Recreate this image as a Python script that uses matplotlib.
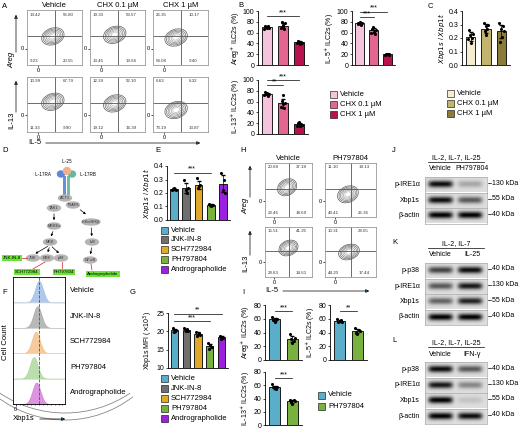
import numpy as np
import matplotlib
matplotlib.use("Agg")
import matplotlib.pyplot as plt
from matplotlib.patches import Ellipse, Arc

W, H = 520, 428
plt.rcParams["font.family"] = ["Liberation Sans", "DejaVu Sans"]
plt.rcParams["axes.linewidth"] = 0.6

# ---------------- data ----------------
chx_groups = ["Vehicle", "CHX 0.1 µM", "CHX 1 µM"]
a_quads = [[[13.42, 56.80, 9.23, 20.55], [19.33, 53.57, 13.45, 13.66], [26.35, 10.17, 54.08, 9.40]],
           [[10.99, 67.79, 11.33, 9.90], [12.39, 52.10, 19.12, 16.39], [6.63, 6.32, 73.19, 13.87]]]
a_centers = [[(0.47, 0.52), (0.45, 0.55), (0.42, 0.50)],
             [(0.47, 0.55), (0.45, 0.52), (0.42, 0.40)]]

b_areg = [70, 73, 42]
b_areg_pts = [[66, 72, 70, 68, 73, 69], [68, 80, 75, 70, 66, 78], [40, 44, 42, 39, 43, 41]]
b_il5 = [77, 64, 20]
b_il5_pts = [[76, 78, 77, 79, 75, 78], [60, 66, 70, 62, 58, 65], [19, 21, 20, 20, 21, 19]]
b_il13 = [74, 57, 18]
b_il13_pts = [[72, 78, 74, 76, 70, 75], [50, 62, 72, 55, 48, 58], [15, 20, 22, 14, 18, 17]]

c_ratio = [0.21, 0.27, 0.25]
c_pts = [[0.19, 0.26, 0.22, 0.16, 0.20, 0.23], [0.31, 0.25, 0.29, 0.22, 0.27, 0.30],
         [0.31, 0.17, 0.27, 0.21, 0.29, 0.25]]

inhib = ["Vehicle", "JNK-IN-8", "SCH772984", "PH797804", "Andrographolide"]
inhib_colors = ["#5aaec9", "#6f6f6f", "#e0a92a", "#79b13f", "#9b20e0"]
e_ratio = [0.23, 0.24, 0.26, 0.11, 0.27]
e_pts = [[0.22, 0.23, 0.24, 0.22], [0.30, 0.22, 0.20, 0.24], [0.31, 0.24, 0.25, 0.26],
         [0.12, 0.11, 0.10, 0.11], [0.35, 0.22, 0.30, 0.20]]
g_mfi = [20.3, 20.4, 19.3, 16.0, 18.4]
g_pts = [[20.8, 19.8, 20.2, 20.5], [20.9, 20.0, 20.6, 20.2], [19.8, 18.8, 19.5, 19.0],
         [16.8, 15.2, 16.3, 15.8], [18.8, 18.0, 18.5, 18.3]]
f_peaks = [0.50, 0.47, 0.44, 0.40, 0.45]

h_groups = ["Vehicle", "PH797804"]
h_quads = [[[20.68, 37.18, 23.46, 18.69], [11.10, 19.13, 43.41, 26.36]],
           [[15.51, 41.25, 28.63, 14.61], [10.31, 28.05, 44.20, 17.44]]]
h_centers = [[(0.47, 0.55), (0.45, 0.42)], [(0.50, 0.58), (0.47, 0.50)]]
i_groups = ["Vehicle", "PH797804"]
i_colors = ["#5aaec9", "#79b13f"]
i_areg = [59, 30]
i_areg_pts = [[62, 58, 56, 60, 59], [38, 30, 25, 28, 32]]
i_il5 = [57, 42]
i_il5_pts = [[59, 56, 57, 58, 55], [46, 40, 38, 44, 42]]
i_il13 = [57, 36]
i_il13_pts = [[62, 58, 56, 55, 57], [38, 35, 32, 37, 36]]

# western blots: (title, lanes, rows, band intensities per lane, kDa)
blots = [
    ("J", "IL-2, IL-7, IL-25", ["Vehicle", "PH797804"],
     ["p-IRE1α", "Xbp1s", "β-actin"], [[0.95, 0.25], [0.95, 0.6], [1.0, 1.0]],
     ["130 kDa", "55 kDa", "40 kDa"]),
    ("K", "IL-2, IL-7", ["Vehicle", "IL-25"],
     ["p-p38", "p-IRE1α", "Xbp1s", "β-actin"], [[0.7, 0.95], [0.6, 0.9], [0.55, 0.85], [1.0, 1.0]],
     ["40 kDa", "130 kDa", "55 kDa", "40 kDa"]),
    ("L", "IL-2, IL-7, IL-25", ["Vehicle", "IFN-γ"],
     ["p-p38", "p-IRE1α", "Xbp1s", "β-actin"], [[0.95, 0.6], [0.9, 0.4], [1.0, 0.12], [1.0, 0.95]],
     ["40 kDa", "130 kDa", "55 kDa", "40 kDa"]),
]

fig = plt.figure(figsize=(W / 100, H / 100), dpi=100)
ov = fig.add_axes([0, 0, 1, 1])
ov.set_xlim(0, W)
ov.set_ylim(H, 0)
ov.axis("off")


def ax_px(x0, y0, x1, y1):
    return fig.add_axes([x0 / W, 1 - y1 / H, (x1 - x0) / W, (y1 - y0) / H])


for lab, x, y in [("A", 2, 6), ("B", 238, 5), ("C", 428, 6), ("D", 2, 150), ("E", 155, 150),
                  ("F", 2, 293), ("G", 130, 293), ("H", 240, 150), ("I", 242, 293),
                  ("J", 392, 150), ("K", 392, 242), ("L", 392, 340)]:
    ov.text(x, y, lab, fontsize=5.5, va="center")


def flow(ax, quads, center, title=None):
    ax.set_xlim(0, 1)
    ax.set_ylim(0, 1)
    ax.set_xticks([0.2])
    ax.set_xticklabels(["0"])
    ax.set_yticks([0.3])
    ax.set_yticklabels(["0"])
    ax.tick_params(length=1.5, width=0.5, labelsize=4, pad=1)
    for s in ax.spines.values():
        s.set_color("#999999")
    ax.axvline(0.5, color="#555555", lw=0.6)
    ax.axhline(0.52, color="#555555", lw=0.6)
    cx, cy = center
    for k, r in enumerate(np.linspace(1, 0.3, 6)):
        ax.add_patch(Ellipse((cx, cy), 0.42 * r, 0.30 * r, angle=20, fill=False,
                             ec=str(0.35 + 0.08 * k), lw=0.5))
    kw = dict(fontsize=3.2, color="#333333")
    ax.text(0.05, 0.9, f"{quads[0]:.2f}", **kw)
    ax.text(0.65, 0.9, f"{quads[1]:.2f}", **kw)
    ax.text(0.05, 0.05, f"{quads[2]:.2f}", **kw)
    ax.text(0.65, 0.05, f"{quads[3]:.2f}", **kw)
    if title:
        ax.set_title(title, fontsize=5.5, pad=2)


def bars(ax, vals, pts, colors, ylim, yticks, ylabel, sigs=(), fmt=None):
    x = np.arange(len(vals))
    ax.bar(x, vals, color=colors, edgecolor="black", lw=0.6, width=0.62, zorder=1)
    for i, p in enumerate(pts):
        sd = np.std(p)
        ax.errorbar(i, vals[i], yerr=sd, color="black", lw=0.5, capsize=1.2, zorder=2)
        off = np.linspace(-0.15, 0.15, len(p))
        ax.scatter(i + off, p, s=5, color="black", zorder=3, lw=0)
    ax.set_ylim(*ylim)
    ax.set_yticks(yticks)
    if fmt:
        ax.set_yticklabels([fmt.format(t) for t in yticks])
    ax.set_xticks([])
    ax.set_xlim(-0.55, len(vals) - 0.45)
    ax.spines[["top", "right"]].set_visible(False)
    ax.tick_params(length=1.5, width=0.5, labelsize=5, pad=1)
    ax.set_ylabel(ylabel, fontsize=5, labelpad=1)
    for (i, j, yy, txt) in sigs:
        ax.plot([i, j], [yy, yy], color="black", lw=0.5, clip_on=False)
        ax.text((i + j) / 2, yy, txt, fontsize=5, ha="center", va="bottom")


def legend(x, y, labels, colors, dy=10, fs=5.5):
    for k, (l, c) in enumerate(zip(labels, colors)):
        ov.add_patch(plt.Rectangle((x, y + k * dy - 3.5), 7, 7, fc=c, ec="black", lw=0.4))
        ov.text(x + 10, y + k * dy, l, fontsize=fs, va="center")


# ---------------- A ----------------
ax_x = [(27, 82), (90, 145), (153, 208)]
for r, (y0, y1) in enumerate([(10, 65), (77, 132)]):
    for c, (x0, x1) in enumerate(ax_x):
        ax = ax_px(x0, y0, x1, y1)
        flow(ax, a_quads[r][c], a_centers[r][c], chx_groups[c] if r == 0 else None)
ov.annotate("", xy=(16, 12), xytext=(16, 55), arrowprops=dict(arrowstyle="-|>", lw=0.5, mutation_scale=5))
ov.annotate("", xy=(16, 78), xytext=(16, 115), arrowprops=dict(arrowstyle="-|>", lw=0.5, mutation_scale=5))
ov.text(12, 60, "Areg", rotation=90, fontsize=5.5, ha="center", va="center", style="italic")
ov.text(12, 120, "IL-13", rotation=90, fontsize=5.5, ha="center", va="center")
ov.text(28, 143, "IL-5", fontsize=5.5, va="center")
ov.annotate("", xy=(203, 143), xytext=(43, 143), arrowprops=dict(arrowstyle="-|>", lw=0.5, mutation_scale=5))

# ---------------- B ----------------
pinks = ["#f5c4dc", "#e2668f", "#b8134f"]
bars(ax_px(258, 11, 308, 65), b_areg, b_areg_pts, pinks, (0, 100), range(0, 101, 20),
     r"Areg$^{+}$ ILC2s (%)", [(0, 2, 90, "***")])
bars(ax_px(352, 11, 395, 65), b_il5, b_il5_pts, pinks, (0, 100), range(0, 101, 20),
     r"IL-5$^{+}$ ILC2s (%)", [(0, 1, 89, "***"), (0, 2, 99, "***")])
bars(ax_px(258, 80, 308, 134), b_il13, b_il13_pts, pinks, (0, 100), range(0, 101, 20),
     r"IL-13$^{+}$ ILC2s (%)", [(0, 1, 90, "**"), (0, 2, 100, "***")])
legend(330, 94, chx_groups, pinks)

# ---------------- C ----------------
golds = ["#f4edd2", "#c3b46f", "#8b7b38"]
bars(ax_px(462, 11, 510, 65), c_ratio, c_pts, golds, (0, 0.4), [0, 0.1, 0.2, 0.3, 0.4],
     r"$Xbp1s$ / $Xbp1t$", fmt="{:.1f}")
legend(447, 93, chx_groups, golds)

# ---------------- D diagram ----------------
ov.add_patch(Arc((65, 300), 230, 240, theta1=55, theta2=125, lw=0.6, color="#888888"))
ov.add_patch(Arc((65, 300), 230, 226, theta1=55, theta2=125, lw=0.6, color="#888888"))
ov.add_patch(plt.Rectangle((63, 176), 3, 20, color="#6a8fd8", lw=0))
ov.add_patch(plt.Rectangle((67, 176), 3, 20, color="#6cc0a4", lw=0))
ov.add_patch(Ellipse((61, 174), 7, 6, color="#5c86d6"))
ov.add_patch(Ellipse((72, 174), 7, 6, color="#66b89a"))
ov.add_patch(Ellipse((67, 171), 7, 7, color="#f0b08c"))
ov.text(67, 163, "IL-25", fontsize=3.3, ha="center")
ov.text(52, 174, "IL-17RA", fontsize=3.3, ha="right", va="center")
ov.text(80, 174, "IL-17RB", fontsize=3.3, ha="left", va="center")
nodes = {"ACT1": (65, 198), "TRAF6": (73, 205), "TAK1": (54, 208), "MEKKs": (54, 226),
         "MKK": (50, 242), "JNK": (33, 258), "ERK": (47, 258), "p38": (61, 258),
         "IKKα/IKKβ": (91, 222), "IκB": (92, 242), "NF-κB": (90, 260)}
for name, (x, y) in nodes.items():
    ov.add_patch(Ellipse((x, y), 13 if len(name) < 6 else 18, 6, color="#b5b5b5"))
    ov.text(x, y, name, fontsize=2.8, ha="center", va="center", color="#333333")
for (a, b) in [("TAK1", "MEKKs"), ("MEKKs", "MKK"), ("MKK", "JNK"), ("MKK", "ERK"), ("MKK", "p38"),
               ("IKKα/IKKβ", "IκB"), ("IκB", "NF-κB")]:
    (x0, y0), (x1, y1) = nodes[a], nodes[b]
    ov.annotate("", xy=(x1, y1 - 3), xytext=(x0, y0 + 3),
                arrowprops=dict(arrowstyle="-|>", lw=0.5, mutation_scale=3, color="black"))
ov.annotate("", xy=(88, 216), xytext=(78, 208),
            arrowprops=dict(arrowstyle="-|>", lw=0.5, mutation_scale=3, color="black"))
for name, (x, y) in {"JNK-IN-8": (12, 258), "SCH772984": (27, 272), "PH797804": (64, 272),
                     "Andrographolide": (103, 274)}.items():
    ov.text(x, y, name, fontsize=3.2, ha="center", va="center",
            bbox=dict(boxstyle="square,pad=0.2", fc="#6ce23a", ec="none"))
for (x0, y0, x1, y1) in [(20, 258, 27, 258), (33, 269, 45, 262), (62, 269, 62, 262), (92, 270, 91, 264)]:
    ov.plot([x0, x1], [y0, y1], color="#d02020", lw=0.5)

# ---------------- E ----------------
bars(ax_px(167, 166, 230, 220), e_ratio, e_pts, inhib_colors, (0, 0.4), [0, 0.1, 0.2, 0.3, 0.4],
     r"$Xbp1s$ / $Xbp1t$", [(0, 3, 0.35, "***")], fmt="{:.1f}")
legend(161, 230, inhib, inhib_colors, dy=9.8)

# ---------------- F ----------------
axf = ax_px(13, 277, 65, 404)
f_colors = ["#7aa6e2", "#8a8a8a", "#f0a85a", "#8cc878", "#c64ec8"]
xs = np.linspace(0, 1, 200)
for k, (pk, col) in enumerate(zip(f_peaks, f_colors)):
    base = 4 - k
    yv = base + 0.85 * np.exp(-((xs - pk) / 0.11) ** 2)
    axf.fill_between(xs, base, yv, color=col, alpha=0.6, lw=0.4, ec=col)
    axf.axhline(base, color="#dddddd", lw=0.4)
    ov.text(70, 277 + (k + 0.55) * 25.4, inhib[k], fontsize=5.5, va="center")
axf.axvline(0.5, color="#d02020", lw=0.6, ls="--")
axf.set_xlim(0, 1)
axf.set_ylim(0, 5)
axf.set_yticks([])
axf.set_xticks([0.05])
axf.set_xticklabels(["0"])
axf.set_xticks(np.linspace(0.05, 0.95, 13), minor=True)
axf.tick_params(labelsize=4, length=1.5, width=0.5, pad=1)
axf.tick_params(which="minor", length=1, width=0.4)
ov.text(6, 342, "Cell Count", rotation=90, fontsize=5.5, ha="center", va="center")
ov.text(13, 419, "Xbp1s", fontsize=5.5, va="center")
ov.annotate("", xy=(68, 419), xytext=(37, 419), arrowprops=dict(arrowstyle="-|>", lw=0.5, mutation_scale=5))

# ---------------- G ----------------
bars(ax_px(168, 313, 228, 368), g_mfi, g_pts, inhib_colors, (10, 25), [10, 15, 20, 25],
     r"Xbp1s MFI ($\times$10$^{3}$)", [(0, 3, 22.8, "***"), (0, 4, 24.8, "**")])
legend(161, 378, inhib, inhib_colors, dy=10)

# ---------------- H ----------------
hx = [(265, 312), (325, 376)]
for r, (y0, y1) in enumerate([(163, 217), (227, 277)]):
    for c, (x0, x1) in enumerate(hx):
        flow(ax_px(x0, y0, x1, y1), h_quads[r][c], h_centers[r][c], h_groups[c] if r == 0 else None)
ov.annotate("", xy=(250, 163), xytext=(250, 200), arrowprops=dict(arrowstyle="-|>", lw=0.5, mutation_scale=5))
ov.annotate("", xy=(250, 228), xytext=(250, 258), arrowprops=dict(arrowstyle="-|>", lw=0.5, mutation_scale=5))
ov.text(246, 206, "Areg", rotation=90, fontsize=5.5, ha="center", va="center", style="italic")
ov.text(246, 263, "IL-13", rotation=90, fontsize=5.5, ha="center", va="center")
ov.text(265, 291, "IL-5", fontsize=5.5, va="center")
ov.annotate("", xy=(372, 291), xytext=(280, 291), arrowprops=dict(arrowstyle="-|>", lw=0.5, mutation_scale=5))

# ---------------- I ----------------
bars(ax_px(265, 305, 302, 360), i_areg, i_areg_pts, i_colors, (0, 80), range(0, 81, 20),
     r"Areg$^{+}$ ILC2s (%)", [(0, 1, 71, "***")])
bars(ax_px(330, 305, 367, 360), i_il5, i_il5_pts, i_colors, (0, 80), range(0, 81, 20),
     r"IL-5$^{+}$ ILC2s (%)", [(0, 1, 71, "**")])
bars(ax_px(265, 372, 302, 425), i_il13, i_il13_pts, i_colors, (0, 80), range(0, 81, 20),
     r"IL-13$^{+}$ ILC2s (%)", [(0, 1, 71, "***")])
legend(318, 395, i_groups, i_colors, dy=11)

# ---------------- J K L blots ----------------
blot_tops = [177, 263, 362]
bx0, bx1 = 425, 487
gx = np.linspace(0, 1, 120)
gy = np.linspace(0, 1, 30)
GX, GY = np.meshgrid(gx, gy)
for (lab, cond, lanes, rows, inten, kda), top in zip(blots, blot_tops):
    ov.text((bx0 + bx1) / 2, top - 19, cond, fontsize=5, ha="center", va="center")
    ov.plot([bx0 + 3, bx1 - 3], [top - 15, top - 15], color="black", lw=0.5)
    ov.text(bx0 + 15, top - 8, lanes[0], fontsize=5, ha="center", va="center")
    ov.text(bx1 - 15, top - 8, lanes[1], fontsize=5, ha="center", va="center")
    for k, (rn, iv, kd) in enumerate(zip(rows, inten, kda)):
        y0 = top + k * 15.5
        ax = ax_px(bx0, y0, bx1, y0 + 15.5)
        img = np.zeros_like(GX)
        for c, v in zip([0.25, 0.73], iv):
            img += v * np.exp(-((GX - c) / 0.2) ** 6) * np.exp(-((GY - 0.5) / 0.22) ** 2)
        ax.imshow(img, cmap="gray_r", vmin=-0.15, vmax=1.0, aspect="auto", extent=(0, 1, 0, 1))
        ax.set_xticks([])
        ax.set_yticks([])
        for s in ax.spines.values():
            s.set_color("#aaaaaa")
            s.set_linewidth(0.5)
        ov.text(bx0 - 5, y0 + 7.5, rn, fontsize=5, ha="right", va="center")
        ov.plot([bx1 + 1, bx1 + 4], [y0 + 6, y0 + 6], color="black", lw=0.5)
        ov.text(bx1 + 5, y0 + 6, kd, fontsize=5, va="center")

fig.savefig("out.png", dpi=100)
